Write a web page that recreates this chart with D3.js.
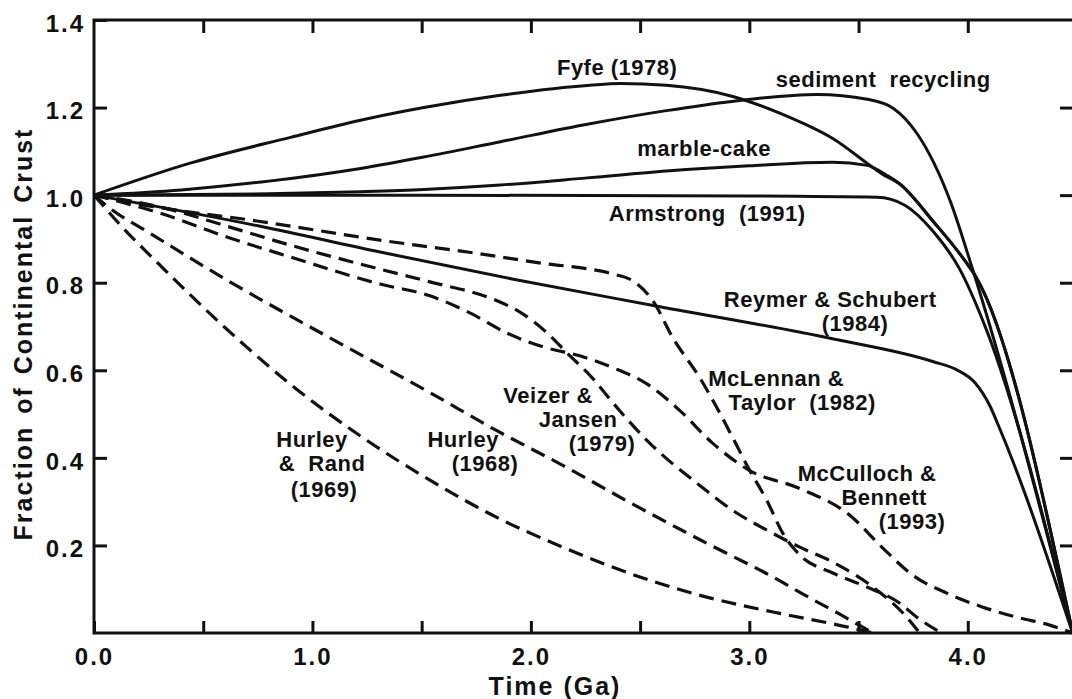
<!DOCTYPE html>
<html>
<head>
<meta charset="utf-8">
<script src="https://cdn.jsdelivr.net/npm/d3@7"></script>
<style>
  body { margin: 0; background: #fff; }
  svg text { font-family: "Liberation Sans", Arial, sans-serif; font-weight: bold; fill: #111; }
</style>
</head>
<body>
<svg id="chart" width="1072" height="699"></svg>
<script>
// time (Ga) vs fraction of present continental crust
const fyfe1978 = [[0,1.0],[0.44,1.073],[0.90,1.132],[1.22,1.171],[1.51,1.200],[1.86,1.228],[2.27,1.251],[2.41,1.255],[2.62,1.251],[2.92,1.226],[3.15,1.185],[3.38,1.130],[3.61,1.048],[3.69,1.025],[3.84,0.941],[3.99,0.848],[4.04,0.811],[4.48,0]];
const sedimentRecycling = [[0,1.0],[0.4,1.012],[0.8,1.032],[1.22,1.061],[1.51,1.087],[1.86,1.122],[2.27,1.163],[2.62,1.193],[2.92,1.214],[3.31,1.230],[3.54,1.219],[3.66,1.198],[3.77,1.139],[3.92,0.986],[4.02,0.834],[4.48,0]];
const marbleCake = [[0,1.0],[0.8,1.003],[1.22,1.008],[1.51,1.013],[1.86,1.023],[2.27,1.040],[2.62,1.055],[3.0,1.067],[3.38,1.075],[3.54,1.068],[3.63,1.045],[3.69,1.025],[3.84,0.941],[3.99,0.848],[4.04,0.811],[4.48,0]];
const armstrong1991 = [[0,1.0],[1.5,1.0],[3.0,0.998],[3.584,0.995],[3.712,0.977],[3.84,0.918],[3.963,0.831],[4.078,0.702],[4.48,0]];
const reymerSchubert1984 = [[0,1.0],[0.75,0.93],[1.31,0.870],[1.92,0.808],[2.56,0.748],[3.38,0.672],[3.84,0.620],[3.95,0.601],[4.032,0.572],[4.101,0.519],[4.146,0.467],[4.48,0]];

const hurleyRand1969 = [[0,1.0],[0.133,0.925],[0.288,0.847],[0.590,0.702],[0.897,0.569],[1.231,0.446],[1.538,0.349],[1.844,0.264],[2.146,0.196],[2.499,0.128],[2.805,0.082],[3.108,0.048],[3.446,0.014],[3.565,0]];
const hurley1968 = [[0,1.0],[0.073,0.970],[0.256,0.913],[0.622,0.802],[1.080,0.674],[1.538,0.549],[1.844,0.462],[2.146,0.383],[2.453,0.298],[2.805,0.205],[3.108,0.128],[3.263,0.084],[3.414,0.043],[3.565,0]];
const veizerJansen1979 = [[0,1.0],[0.302,0.973],[0.622,0.927],[0.897,0.886],[1.309,0.831],[1.538,0.802],[1.844,0.759],[1.950,0.733],[2.073,0.686],[2.165,0.640],[2.284,0.581],[2.375,0.526],[2.531,0.440],[2.773,0.337],[2.924,0.280],[3.080,0.235],[3.231,0.196],[3.382,0.162],[3.597,0.093],[3.712,0.041],[3.78,0]];
const mcLennanTaylor1982 = [[0,1.0],[0.211,0.979],[0.746,0.941],[1.341,0.895],[1.767,0.866],[2.073,0.843],[2.270,0.831],[2.375,0.820],[2.467,0.804],[2.558,0.759],[2.650,0.674],[2.773,0.583],[2.851,0.515],[2.924,0.446],[3.002,0.371],[3.080,0.303],[3.153,0.228],[3.231,0.178],[3.382,0.137],[3.538,0.105],[3.689,0.068],[3.767,0.036],[3.88,0]];
const mcCullochBennett1993 = [[0,1.0],[0.302,0.959],[0.622,0.902],[0.897,0.859],[1.309,0.797],[1.538,0.770],[1.721,0.731],[1.890,0.685],[2.073,0.651],[2.224,0.633],[2.375,0.606],[2.531,0.569],[2.682,0.508],[2.833,0.433],[3.002,0.371],[3.231,0.330],[3.460,0.269],[3.611,0.194],[3.748,0.132],[3.904,0.091],[4.069,0.059],[4.224,0.036],[4.375,0.018],[4.48,0]];

const solidSeries = [fyfe1978, sedimentRecycling, marbleCake, armstrong1991, reymerSchubert1984];
const dashedSeries = [hurleyRand1969, hurley1968, veizerJansen1979, mcLennanTaylor1982, mcCullochBennett1993];

// annotation lines: text, time, fraction (baseline)
const notes = [
  ["Fyfe (1978)", 2.395, 1.274],
  ["sediment  recycling", 3.613, 1.247],
  ["marble-cake", 2.793, 1.089],
  ["Armstrong  (1991)", 2.807, 0.941],
  ["Reymer & Schubert", 3.370, 0.744],
  ["(1984)", 3.484, 0.690],
  ["McLennan &", 3.123, 0.564],
  ["Taylor  (1982)", 3.242, 0.509],
  ["McCulloch &", 3.539, 0.347],
  ["Bennett", 3.617, 0.292],
  ["(1993)", 3.745, 0.237],
  ["Veizer &", 2.079, 0.525],
  ["Jansen", 2.216, 0.470],
  ["(1979)", 2.326, 0.416],
  ["Hurley", 1.690, 0.425],
  ["(1968)", 1.790, 0.370],
  ["Hurley", 0.998, 0.425],
  ["&  Rand", 1.044, 0.370],
  ["(1969)", 1.053, 0.311]
];

const xTicks = d3.range(0, 4.01, 0.5);
const yTicks = [0.2, 0.4, 0.6, 0.8, 1.0, 1.2, 1.4];

const svg = d3.select("#chart");
const x = d3.scaleLinear().domain([0, 4.5]).range([94, 1077]);
const y = d3.scaleLinear().domain([0, 1.4]).range([633, 20]);

const line = d3.line()
  .x(d => x(d[0]))
  .y(d => y(d[1]))
  .curve(d3.curveMonotoneX);

// curves
svg.append("g").selectAll("path")
  .data(solidSeries)
  .enter().append("path")
  .attr("d", line)
  .attr("fill", "none")
  .attr("stroke", "#111")
  .attr("stroke-width", 3);

svg.append("g").selectAll("path")
  .data(dashedSeries)
  .enter().append("path")
  .attr("d", line)
  .attr("fill", "none")
  .attr("stroke", "#111")
  .attr("stroke-width", 3.2)
  .attr("stroke-dasharray", "15,8");

// frame
svg.append("rect")
  .attr("x", x(0)).attr("y", y(1.4))
  .attr("width", x(4.5) - x(0)).attr("height", y(0) - y(1.4))
  .attr("fill", "none")
  .attr("stroke", "#111")
  .attr("stroke-width", 3);

function styleAxis(g) {
  g.select(".domain").remove();
  g.selectAll(".tick line").attr("stroke", "#111").attr("stroke-width", 3);
  g.selectAll(".tick text").attr("font-size", 24).style("letter-spacing", "2px");
}

svg.append("g")
  .attr("transform", `translate(0,${y(0)})`)
  .call(d3.axisBottom(x).tickValues(xTicks).tickSize(-12).tickPadding(15)
    .tickFormat(d => d % 1 === 0 ? d.toFixed(1) : ""))
  .call(styleAxis);

svg.append("g")
  .attr("transform", `translate(0,${y(1.4)})`)
  .call(d3.axisTop(x).tickValues(xTicks.slice(1)).tickSize(-13).tickFormat(""))
  .call(styleAxis);

svg.append("g")
  .attr("transform", `translate(${x(0)},0)`)
  .call(d3.axisLeft(y).tickValues(yTicks).tickSize(-13).tickPadding(9)
    .tickFormat(d3.format(".1f")))
  .call(styleAxis)
  .call(g => g.selectAll(".tick text").attr("dy", "0.47em"));

svg.append("g")
  .attr("transform", `translate(${x(4.5)},0)`)
  .call(d3.axisRight(y).tickValues(yTicks.slice(0, 6)).tickSize(-17).tickFormat(""))
  .call(styleAxis);

// curve labels
svg.append("g").selectAll("text")
  .data(notes)
  .enter().append("text")
  .attr("x", d => x(d[1]))
  .attr("y", d => y(d[2]))
  .attr("text-anchor", "middle")
  .attr("font-size", 22)
  .style("letter-spacing", "0.5px")
  .style("white-space", "pre")
  .text(d => d[0]);

// axis titles
svg.append("text")
  .attr("x", 555).attr("y", 695)
  .attr("text-anchor", "middle")
  .attr("font-size", 25)
  .style("letter-spacing", "2px")
  .text("Time (Ga)");

svg.append("text")
  .attr("transform", "translate(32,334) rotate(-90)")
  .attr("text-anchor", "middle")
  .attr("font-size", 25)
  .style("letter-spacing", "2px")
  .style("word-spacing", "3px")
  .text("Fraction of Continental Crust");
</script>
</body>
</html>
